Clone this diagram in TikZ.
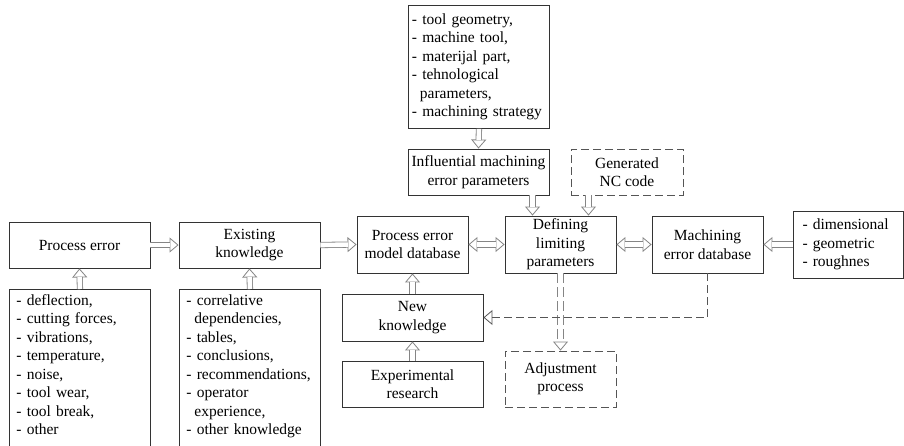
\documentclass[tikz,border=0pt]{standalone}
\usepackage{fontspec}
\setmainfont{Liberation Serif}
\newfontfamily\figfamily{Liberation Serif}
\usepackage{tikz}
\usetikzlibrary{arrows.meta,calc}
\definecolor{edge}{HTML}{333333}
\definecolor{hollowc}{HTML}{858585}
\definecolor{dashc}{HTML}{555555}
\newcommand{\figfont}{\figfamily\fontsize{15.5}{18.5}\selectfont}
\newcommand{\ind}{\hspace*{8pt}}
\tikzset{
  box/.style={draw=edge,line width=0.9pt,align=center,font=\figfont,inner sep=2pt},
  boxw/.style={box,minimum width=141pt,minimum height=46pt},
  boxm/.style={box,minimum width=111pt,minimum height=57pt},
  boxd/.style={box,draw=dashc,dash pattern=on 8pt off 4pt},
  lst/.style={box,align=left,anchor=north west,text width=127pt,inner xsep=7pt,
    inner ysep=5pt,text depth=150pt},
  % hollow block arrows: thin line with the tip first, double shaft on top
  hol/.style={draw=none,
    postaction={draw=hollowc,line width=0.8pt,-{Triangle[length=9pt,width=15pt,fill=white]}},
    postaction={draw=hollowc,line width=0.8pt,double=white,double distance=4.6pt,shorten >=8.5pt}},
  holb/.style={draw=none,
    postaction={draw=hollowc,line width=0.8pt,
      {Triangle[length=9pt,width=15pt,fill=white]}-{Triangle[length=9pt,width=15pt,fill=white]}},
    postaction={draw=hollowc,line width=0.8pt,double=white,double distance=4.6pt,
      shorten <=8.5pt,shorten >=8.5pt}},
  hold/.style={draw=none,
    postaction={draw=hollowc,line width=0.8pt,dash pattern=on 10pt off 4pt,
      -{Triangle[length=9pt,width=15pt,fill=white]}},
    postaction={draw=hollowc,line width=0.8pt,double=white,double distance=4.6pt,
      dash pattern=on 10pt off 4pt,shorten >=8.5pt}},
  fback/.style={draw=dashc,line width=0.8pt,dash pattern=on 8pt off 4pt,
    -{Triangle[open,length=9pt,width=15pt]}},
}

\begin{document}
\begin{tikzpicture}[x=1pt,y=-1pt]
  \useasboundingbox (0,0) rectangle (904,445);
  \clip (0,0) rectangle (904,445);
  % inputs on top
  \node[box,align=left,anchor=north west,text width=134pt,inner xsep=3.5pt,minimum height=123pt]
    (params) at (408,5) {- tool geometry,\\- machine tool,\\- materijal part,\\- tehnological\\
      \ind parameters,\\- machining strategy};
  \node[boxw] (infl) at (478.5,172) {Influential machining\\error parameters};
  \node[boxd,minimum width=112pt,minimum height=46pt] (nccode) at (627,172) {Generated\\NC code};
  % main row
  \node[boxw] (perr) at (79.5,245) {Process error};
  \node[boxw] (exk) at (249.5,245) {Existing\\knowledge};
  \node[boxm] (pemdb) at (412.5,244.5) {Process error\\model database};
  \node[boxm] (defl) at (560.5,244.5) {Defining\\limiting\\parameters};
  \node[boxm] (medb) at (707.5,244.5) {Machining\\error database};
  \node[box,align=left,text width=91pt,inner xsep=9.5pt,minimum height=67pt]
    (errtypes) at (848,244.5) {- dimensional\\- geometric\\- roughnes};
  % lists below
  \node[lst] (perrlist) at (9,289) {- deflection,\\- cutting forces,\\- vibrations,\\
    - temperature,\\- noise,\\- tool wear,\\- tool break,\\- other};
  \node[lst] (exklist) at (179,289) {- correlative\\\ind dependencies,\\- tables,\\
    - conclusions,\\- recommendations,\\- operator\\\ind experience,\\- other knowledge};
  \node[boxw,minimum height=47pt] (newk) at (412.5,317.5) {New\\knowledge};
  \node[boxw] (expr) at (412.5,384) {Experimental\\research};
  \node[boxd,minimum width=111pt,minimum height=56pt] (adjp) at (560.5,379) {Adjustment\\process};

  \coordinate (din) at ($(defl.north west)!0.25!(defl.north east)$);
  \coordinate (dnc) at ($(defl.north west)!0.75!(defl.north east)$);
  \foreach \a/\b in {perr.east/exk.west,exk.east/pemdb.west,perrlist.north/perr.south,
    exklist.north/exk.south,params.south/infl.north,errtypes.west/medb.east,
    newk.north/pemdb.south,expr.north/newk.south}
    \draw[hol] (\a) -- (\b);
  \draw[hol] (infl.south -| din) -- (din);
  \draw[hol] (nccode.south -| dnc) -- (dnc);
  \draw[holb] (pemdb) -- (defl);
  \draw[holb] (defl) -- (medb);
  \draw[hold] (defl.south) -- (adjp.north);
  \draw[fback] (medb.south) |- (newk.east);
\end{tikzpicture}
\end{document}
